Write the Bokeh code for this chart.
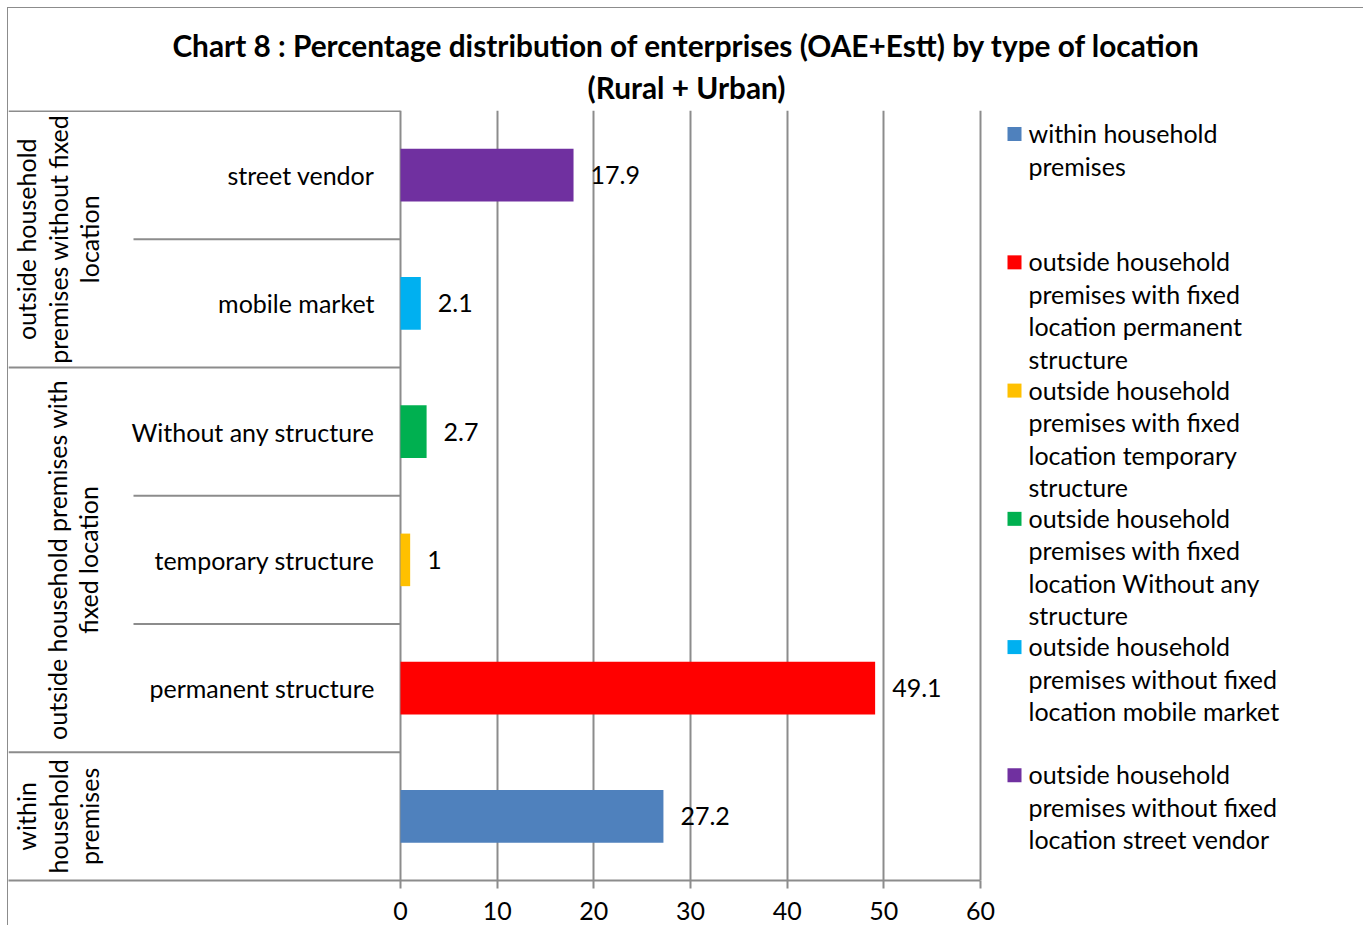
import math
from bokeh.plotting import figure
from bokeh.models import ColumnDataSource, Range1d, FixedTicker, Title
from bokeh.core.properties import value
from bokeh.embed import file_html
from bokeh.resources import INLINE

# ---------------- data (bottom row first) ----------------
sub_labels = ["", "permanent structure", "temporary structure",
              "Without any structure", "mobile market", "street vendor"]
percent = [27.2, 49.1, 1, 2.7, 2.1, 17.9]
colors = ["#4F81BD", "#FF0000", "#FFC000", "#00B050", "#00B0F0", "#7030A0"]
legend_labels = [
    "within household\npremises",
    "outside household\npremises with fixed\nlocation permanent\nstructure",
    "outside household\npremises with fixed\nlocation temporary\nstructure",
    "outside household\npremises with fixed\nlocation Without any\nstructure",
    "outside household\npremises without fixed\nlocation mobile market",
    "outside household\npremises without fixed\nlocation street vendor",
]
group_labels = ["within\nhousehold\npremises",
                "outside household premises with\nfixed location",
                "outside household\npremises without fixed\nlocation"]
group_spans = [(0, 1), (1, 4), (4, 6)]
x_ticks = [0, 10, 20, 30, 40, 50, 60]
title_lines = ["Chart 8 : Percentage distribution of enterprises (OAE+Estt) by type of location",
               "(Rural + Urban)"]

# ---------------- layout constants (canvas pixels; canvas starts 8px into the page) ----------------
W, H = 1356, 918
PX = 580 / 60.0          # pixels per percent
ZERO_PX = 392            # canvas x of value 0
x_start = -ZERO_PX / PX
x_end = (W - ZERO_PX) / PX
n = len(percent)
FONT = "Lato"
FS = "25px"
GRID = "#8c8c8c"
group_x_px = [49, 64, 49]
inner_x = (125 - ZERO_PX) / PX
leg_marker_x = (1006 - ZERO_PX) / PX
leg_text_x = (1020 - ZERO_PX) / PX

def xd(px):
    return (px - ZERO_PX) / PX

src = ColumnDataSource(dict(
    y=[i + 0.5 for i in range(n)],
    v=percent,
    c=colors,
    sub=sub_labels,
    vt=[f"{v:g}" for v in percent],
))

p = figure(width=W, height=H, x_range=Range1d(x_start, x_end), y_range=Range1d(0, n + 0.004),
           output_backend="svg", toolbar_location=None, y_axis_location=None,
           min_border_left=0, min_border_right=0, min_border_top=102, min_border_bottom=46,
           outline_line_color=None, background_fill_color="white", border_fill_color="white")
# outer chart border: top and left edges only
p.styles = {"margin-left": "7px", "margin-top": "7px",
            "border-left": "1px solid #8c8c8c", "border-top": "1px solid #8c8c8c"}

# titles (first added sits nearest the plot)
p.add_layout(Title(text=title_lines[1], align="center", text_font=FONT, text_font_size="29.8px",
                   text_font_style="bold", text_color="black", standoff=12), "above")
p.add_layout(Title(text=title_lines[0], align="center", text_font=FONT, text_font_size="29.8px",
                   text_font_style="bold", text_color="black", standoff=-2), "above")

# grid & axis
p.xgrid.ticker = FixedTicker(ticks=x_ticks)
p.xgrid.grid_line_color = GRID
p.xgrid.grid_line_width = 2
p.ygrid.grid_line_color = None
ax = p.xaxis[0]
ax.ticker = FixedTicker(ticks=x_ticks)
ax.bounds = (x_start, x_ticks[-1])
ax.axis_line_color = GRID
ax.axis_line_width = 2
ax.major_tick_line_color = GRID
ax.major_tick_line_width = 2
ax.major_tick_out = 8
ax.major_tick_in = 0
ax.minor_tick_line_color = None
ax.major_label_text_font = FONT
ax.major_label_text_font_size = FS
ax.major_label_text_color = "black"
ax.major_label_standoff = 13

# table lines of the multi-level category axis
full_y = [e for (_, e) in group_spans]
inner_y = [b for (s, e) in group_spans for b in range(s + 1, e)]
p.segment(x0=[x_start] * len(full_y), y0=full_y, x1=[0] * len(full_y), y1=full_y,
          line_color=GRID, line_width=2)
p.segment(x0=[inner_x] * len(inner_y), y0=inner_y, x1=[0] * len(inner_y), y1=inner_y,
          line_color=GRID, line_width=2)

# bars
p.hbar(y="y", right="v", left=0, height=0.41, fill_color="c", line_color=None, source=src)

# value labels
p.text(x="v", y="y", text="vt", source=src, x_offset=17, text_align="left",
       text_baseline="middle", text_font=value(FONT), text_font_size=value(FS), text_color="black")

# sub-category labels
p.text(x=0, y="y", text="sub", source=src, x_offset=-26, text_align="right",
       text_baseline="middle", text_font=value(FONT), text_font_size=value(FS), text_color="black")

# group labels (rotated)
gsrc = ColumnDataSource(dict(
    x=[xd(px) for px in group_x_px],
    y=[(s + e) / 2 for (s, e) in group_spans],
    t=group_labels,
))
p.text(x="x", y="y", text="t", source=gsrc, angle=math.pi / 2, text_align="center",
       text_baseline="middle", text_font=value(FONT), text_font_size=value(FS),
       text_color="black", text_line_height=1.05)

# legend: one entry per row band, top entry = first series
lsrc = ColumnDataSource(dict(
    ym=[n - k - 0.18 for k in range(n)],
    yt=[n - k - 0.055 for k in range(n)],
    c=colors,
    t=legend_labels,
))
p.scatter(x=leg_marker_x, y="ym", marker="square", size=14, fill_color="c", line_color=None,
          source=lsrc)
p.text(x=leg_text_x, y="yt", text="t", source=lsrc, text_align="left", text_baseline="top",
       text_font=value(FONT), text_font_size=value(FS), text_color="black",
       text_line_height=1.083)

open("out.html", "w").write(file_html(p, INLINE))
